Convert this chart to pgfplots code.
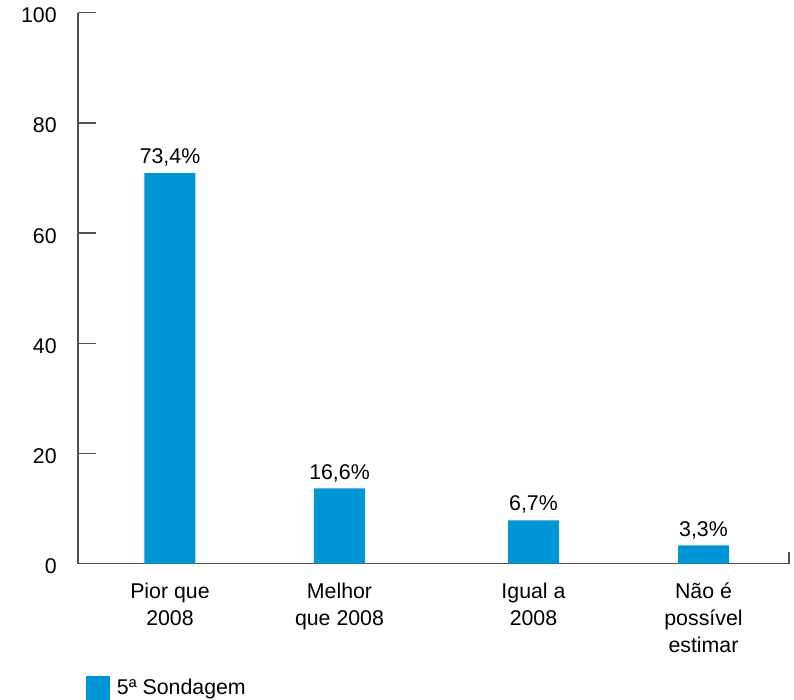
\documentclass[border=0pt]{standalone}
\usepackage{fontspec}
\setmainfont{Liberation Sans}
\usepackage{pgfplots}
\usepackage{pgfplotstable}
\pgfplotsset{compat=1.18}
\definecolor{barblue}{RGB}{0,150,214}
\definecolor{axisgray}{RGB}{80,80,80}
\newcommand{\lf}{\fontsize{16}{20}\selectfont}
\newcommand{\st}{\rule{0pt}{15pt}}

% x positions in pixel units of the original chart
\pgfplotstableread{
x      y     label
170    70.9  73,4\%
339.5  13.65 16,6\%
533.5  7.85  6,7\%
703.5  3.3   3,3\%
}\sondagem

\begin{document}
\begin{tikzpicture}
\begin{axis}[
  scale only axis,
  width=533.25pt, height=413.25pt,
  xmin=78, xmax=789, ymin=0, ymax=100,
  clip=false,
  axis x line=bottom, axis y line=left,
  axis line style={-, draw=axisgray, line width=1.1pt},
  tick align=inside,
  major tick length=13.5pt,
  ytick={0,20,...,100},
  y tick style={draw=axisgray, line width=1pt},
  yticklabel style={font=\lf, xshift=-12.5pt, yshift=-2pt},
  /pgf/number format/assume math mode=true,
  xtick={170,339.5,533.5,703.5},
  xticklabels={\st Pior que\\2008, \st Melhor\\que 2008, \st Igual a\\2008, \st Não é\\possível\\estimar},
  x tick label style={align=center, anchor=north, yshift=5.75pt, font=\lf},
  x tick style={draw=none},
  ybar, bar width=51,
  nodes near coords,
  point meta=explicit symbolic,
  every node near coord/.append style={font=\lf, yshift=1.5pt},
  legend style={draw=none, fill=none, inner sep=0pt,
    at={(0.01125,-0.2026)}, anchor=north west, font=\lf,
    nodes={inner xsep=5pt}},
  legend image code/.code={\fill[barblue] (0pt,-9pt) rectangle (18pt,9pt);},
]
\addplot[fill=barblue, draw=none] table[x=x, y=y, meta=label] {\sondagem};
\addlegendentry{5ª Sondagem}
% closing tick at the right end of the x axis
\draw[axisgray, line width=1pt] (axis cs:789,0) -- (axis cs:789,2.2);
\coordinate (bl) at (axis cs:0,-24.42);
\coordinate (tr) at (axis cs:794,102.3);
\end{axis}
\path (bl) rectangle (tr);
\end{tikzpicture}
\end{document}
